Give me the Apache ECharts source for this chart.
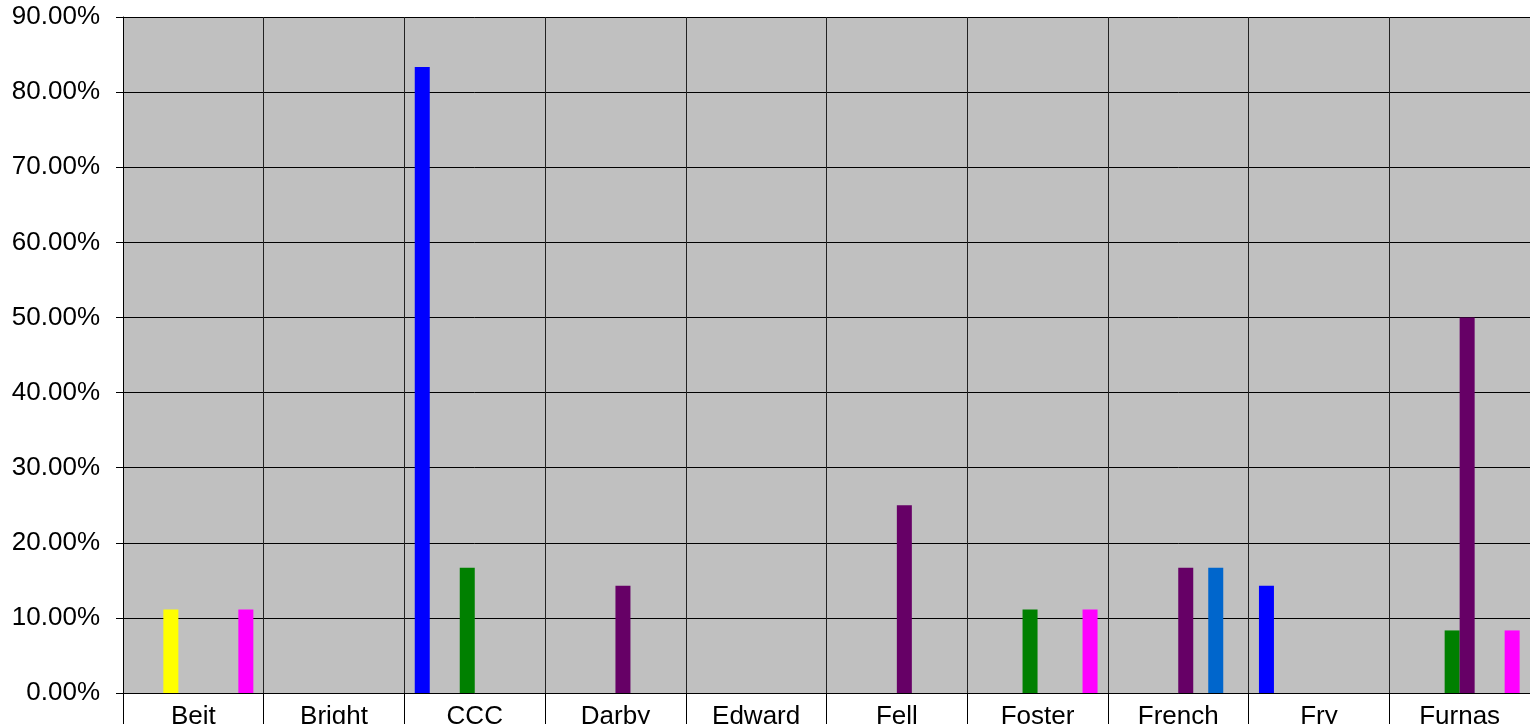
<!DOCTYPE html>
<html>
<head>
<meta charset="utf-8">
<script src="https://cdn.jsdelivr.net/npm/echarts@6/dist/echarts.min.js"></script>
<style>
  html, body { margin: 0; padding: 0; background: #fff; }
  #main { width: 1530px; height: 724px; }
</style>
</head>
<body>
<div id="main"></div>
<script>
// categories along the x axis
var halls = ['Beit', 'Bright', 'CCC', 'Darby', 'Edward', 'Fell', 'Foster', 'French', 'Fry', 'Furnas']
// y axis ticks (percent)
var yTicks = [0, 10, 20, 30, 40, 50, 60, 70, 80, 90]

// series values in percent, null = no bar
var s1 = [null, null, 83.33, null, null, null, null, null, 14.29, null]
var s2 = [null, null, null, null, null, null, null, null, null, null]
var s3 = [11.11, null, null, null, null, null, null, null, null, null]
var s4 = [null, null, 16.67, null, null, null, 11.11, null, null, 8.33]
var s5 = [null, null, null, 14.29, null, 25.0, null, 16.67, null, 50.0]
var s6 = [null, null, null, null, null, null, null, null, null, null]
var s7 = [null, null, null, null, null, null, null, 16.67, null, null]
var s8 = [11.11, null, null, null, null, null, 11.11, null, null, 8.33]

var seriesData = [s1, s2, s3, s4, s5, s6, s7, s8]
var seriesNames = ['Series 1', 'Series 2', 'Series 3', 'Series 4', 'Series 5', 'Series 6', 'Series 7', 'Series 8']
var colors = ['#0000FF', '#FF0000', '#FFFF00', '#008000', '#660066', '#00FFFF', '#0066CC', '#FF00FF']

var chart = echarts.init(document.getElementById('main'))
var font = 'Liberation Sans, Arial, sans-serif'

var option = {
  animation: false,
  color: colors,
  grid: {
    left: 123,
    right: 0,
    top: 17,
    bottom: 31,
    outerBoundsMode: 'none',
    show: true,
    backgroundColor: '#C0C0C0',
    borderWidth: 0
  },
  xAxis: {
    type: 'category',
    data: halls,
    boundaryGap: true,
    axisLine: { lineStyle: { color: '#000', width: 1 } },
    axisTick: { show: true, length: 40, lineStyle: { color: '#000' } },
    axisLabel: { color: '#000', fontFamily: font, fontSize: 26, margin: 11 },
    splitLine: { show: true, lineStyle: { color: '#222', width: 1 } }
  },
  yAxis: {
    type: 'value',
    min: 0,
    max: yTicks[yTicks.length - 1],
    interval: 10,
    axisLine: { show: true, lineStyle: { color: '#000', width: 1 } },
    axisTick: { show: true, length: 7, lineStyle: { color: '#000' } },
    axisLabel: {
      color: '#000',
      fontFamily: font,
      fontSize: 26,
      margin: 23,
      formatter: function (v) { return v.toFixed(2) + '%' }
    },
    splitLine: { show: true, lineStyle: { color: '#000', width: 1 } }
  },
  series: seriesData.map(function (d, i) {
    return {
      name: seriesNames[i],
      type: 'bar',
      data: d,
      barWidth: 15,
      barGap: 0
    }
  })
}

option && chart.setOption(option)
</script>
</body>
</html>
